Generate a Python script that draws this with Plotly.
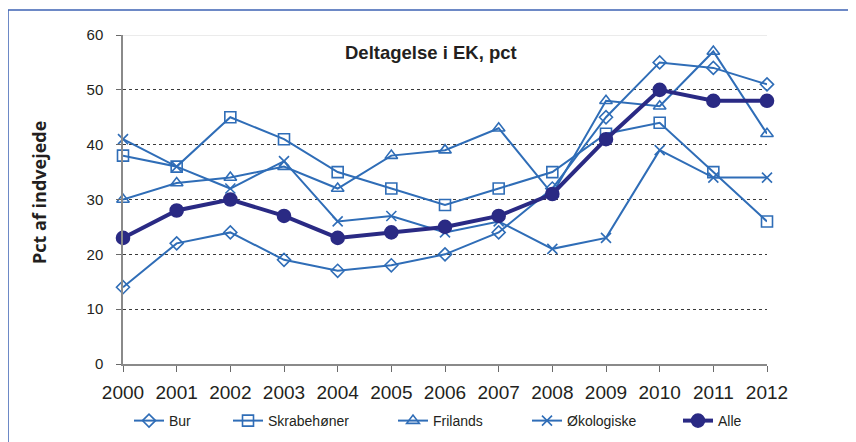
import plotly.graph_objects as go

years = [2000, 2001, 2002, 2003, 2004, 2005, 2006, 2007, 2008, 2009, 2010, 2011, 2012]
bur = [14, 22, 24, 19, 17, 18, 20, 24, 32, 45, 55, 54, 51]
skrabehoner = [38, 36, 45, 41, 35, 32, 29, 32, 35, 42, 44, 35, 26]
frilands = [30, 33, 34, 36, 32, 38, 39, 43, 31, 48, 47, 57, 42]
okologiske = [41, 36, 32, 37, 26, 27, 24, 26, 21, 23, 39, 34, 34]
alle = [23, 28, 30, 27, 23, 24, 25, 27, 31, 41, 50, 48, 48]
y_ticks = [0, 10, 20, 30, 40, 50, 60]

LIGHT = "#2F6DB7"
DARK = "#2A2A84"
SANS = "Liberation Sans, Arial, sans-serif"
TXT = "#231F20"

# page offset from default body margin
OX, OY = 8, 8
W, H = 856 - OX, 442 - OY
L, T = 123 - OX, 35 - OY
PW, PH = 644, 329
R, B = W - L - PW, H - T - PH


def px_x(px):
    return (px - OX - L) / PW


def px_y(py):
    return 1 - (py - OY - T) / PH


series = [
    ("Bur", bur, "diamond-open", 10, LIGHT, 2, "legend"),
    ("Skrabehøner", skrabehoner, "square-open", 11, LIGHT, 2, "legend2"),
    ("Frilands", frilands, "triangle-up-open", 11, LIGHT, 2, "legend3"),
    ("Økologiske", okologiske, "x-thin-open", 10, LIGHT, 2, "legend4"),
    ("Alle", alle, "circle", 13, DARK, 4, "legend5"),
]

fig = go.Figure()
for name, vals, sym, size, col, lw, leg in series:
    fig.add_trace(go.Scatter(
        x=years, y=vals, name=name, mode="lines+markers",
        line=dict(color=col, width=lw),
        marker=dict(symbol=sym, size=size, color=col,
                    line=dict(color=col, width=1.6)),
        cliponaxis=False, legend=leg,
    ))

leg_x = [129, 228, 393, 527, 678]
legend_common = dict(orientation="h", xanchor="left", yanchor="middle",
                     y=px_y(421), bgcolor="rgba(0,0,0,0)", borderwidth=0,
                     font=dict(family=SANS, size=14, color=TXT))
legends = {}
for i, lx in enumerate(leg_x):
    key = "legend" if i == 0 else f"legend{i+1}"
    legends[key] = dict(legend_common, x=px_x(lx))

fig.update_layout(
    width=W, height=H,
    margin=dict(l=L, r=R, t=T, b=B, pad=0, autoexpand=False),
    paper_bgcolor="white", plot_bgcolor="white",
    showlegend=True,
    xaxis=dict(range=[2000, 2012], tickvals=years, ticktext=[str(y) for y in years],
               showgrid=False, zeroline=False, showline=True, linecolor="#8A8A8A",
               linewidth=1.5, ticks="outside", ticklen=6, tickcolor="#6A6A6A",
               tickwidth=1, tickfont=dict(family=SANS, size=19, color=TXT),
               ticklabelstandoff=4),
    yaxis=dict(range=[0, 60], tickvals=y_ticks, showgrid=True, gridcolor="#3A3A3A",
               griddash="dot", gridwidth=1, zeroline=False, showline=True,
               linecolor="#8A8A8A", linewidth=1.5, ticks="outside", ticklen=5,
               tickcolor="#6A6A6A", tickfont=dict(family=SANS, size=15, color=TXT),
               ticklabelstandoff=10),
    annotations=[
        dict(text="<b>Deltagelse i EK, pct</b>", xref="paper", yref="paper",
             x=px_x(431), y=px_y(53), xanchor="center", yanchor="middle",
             showarrow=False, font=dict(family=SANS, size=18.5, color=TXT)),
        dict(text="<b>Pct af indvejede</b>", xref="paper", yref="paper",
             x=px_x(39), y=px_y(193), xanchor="center", yanchor="middle",
             textangle=-90, showarrow=False,
             font=dict(family="Open Sans, sans-serif", size=18, color=TXT)),
    ],
    shapes=[
        dict(type="line", xref="x", yref="y", x0=2000, x1=2012, y0=60, y1=60,
             line=dict(color="#E4E4E4", width=1.5), layer="between"),
        dict(type="line", xref="paper", yref="paper", x0=px_x(8), x1=px_x(870),
             y0=px_y(10), y1=px_y(10), line=dict(color="#3D62B3", width=1.5)),
        dict(type="line", xref="paper", yref="paper", x0=px_x(8), x1=px_x(8),
             y0=px_y(10), y1=px_y(460), line=dict(color="#3D62B3", width=1.5)),
    ],
    **legends,
)

fig.write_html("out.html")
